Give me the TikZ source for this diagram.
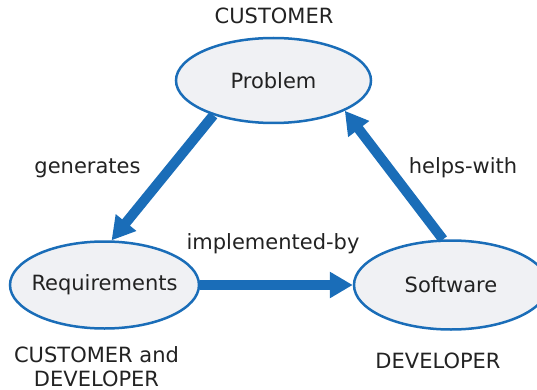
\documentclass[tikz,border=0pt]{standalone}
\usepackage{fontspec}
\setmainfont{DejaVu Sans}
\usetikzlibrary{shapes.geometric,arrows.meta}
\definecolor{bblue}{HTML}{1A6DB8}
\definecolor{efill}{HTML}{F0F1F4}
\definecolor{tgray}{HTML}{222222}
\begin{document}
\begin{tikzpicture}[x=1pt,y=-1pt,
  every node/.style={text=tgray,font=\fontsize{21}{24}\selectfont},
  blob/.style={ellipse,draw=bblue,fill=efill,line width=2.5pt,inner sep=0pt},
  flow/.style={draw=bblue,line width=10pt,-{Triangle[length=23pt,width=25pt]}},
  lbl/.style={inner sep=0pt,align=center}]
\useasboundingbox (0,0) rectangle (537,390);
\node[blob,minimum width=195pt,minimum height=85pt] (prob) at (273.5,80.5) {\makebox[0pt]{Problem}};
\node[blob,minimum width=189pt,minimum height=87pt] (req) at (104.5,285) {\makebox[0pt]{Requirements}};
\node[blob,minimum width=194pt,minimum height=89pt] (soft) at (451,285) {\makebox[0pt]{Software}};
\node[lbl] (c1) at (274,16) {CUSTOMER};
\node[lbl,anchor=base] (gen) at (87.5,173) {generates};
\node[lbl,anchor=base] (hw) at (463,173) {helps-with};
\node[lbl,anchor=base] (imp) at (273,249) {implemented-by};
\node[lbl,anchor=base] (cd1) at (96.5,362) {CUSTOMER and};
\node[lbl,anchor=base] (cd2) at (96.5,386) {DEVELOPER};
\node[lbl] (dev) at (438,360.5) {DEVELOPER};
\draw[flow] (prob.210) -- (req.81);
\draw[flow] (req.east) -- (soft.west);
\draw[flow] (soft.100) -- (prob.337);
\end{tikzpicture}
\end{document}
